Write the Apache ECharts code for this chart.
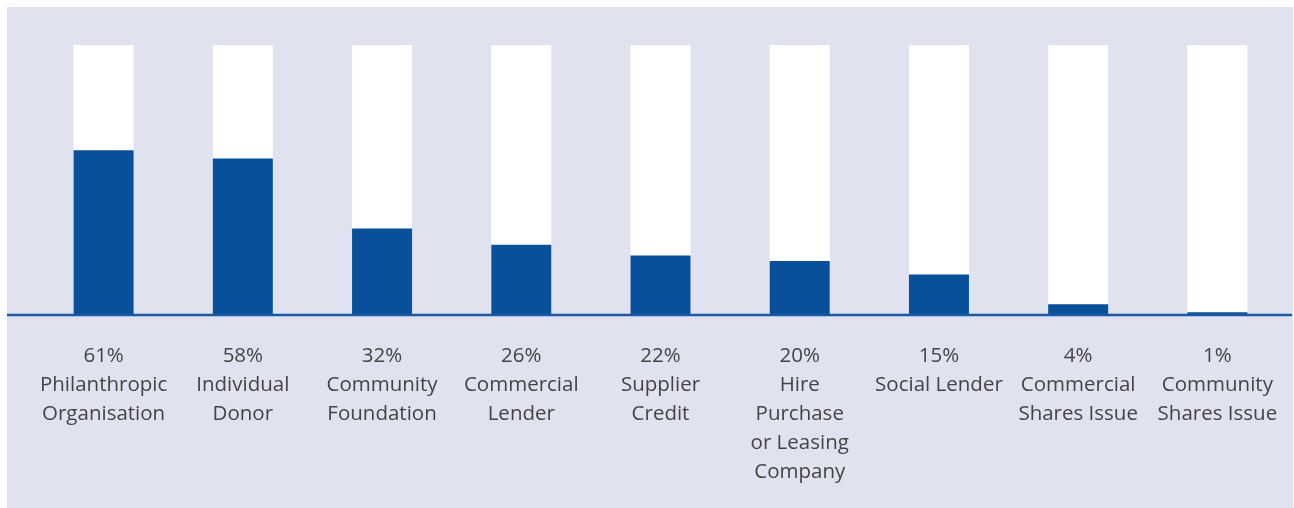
<!DOCTYPE html>
<html>
<head>
<meta charset="utf-8">
<script src="https://cdn.jsdelivr.net/npm/echarts@6/dist/echarts.min.js"></script>
<style>
  html, body { margin: 0; padding: 0; background: #ffffff; }
  #chart { width: 1294px; height: 508px; }
</style>
</head>
<body>
<div id="chart"></div>
<script>
// Sources of finance used, share of respondents (%)
const categories = [
  'Philanthropic\nOrganisation',
  'Individual\nDonor',
  'Community\nFoundation',
  'Commercial\nLender',
  'Supplier\nCredit',
  'Hire\nPurchase\nor Leasing\nCompany',
  'Social Lender',
  'Commercial\nShares Issue',
  'Community\nShares Issue'
];
const values = [61, 58, 32, 26, 22, 20, 15, 4, 1];

const panelColor = '#e0e2f0';
const barColor = '#08519a';
const axisColor = '#1b5aa2';
const textColor = '#444444';

const chart = echarts.init(document.getElementById('chart'), null, { renderer: 'canvas' });

const panel = {
  type: 'rect',
  z: -10,
  shape: { x: 7, y: 7, width: 1286, height: 501 },
  style: { fill: panelColor }
};

chart.setOption({
  backgroundColor: '#ffffff',
  animation: false,
  graphic: [panel],
  grid: { left: 34, right: 7, top: 45, bottom: 193, containLabel: false },
  xAxis: {
    type: 'category',
    data: categories,
    axisLine: { show: false },
    axisTick: { show: false },
    axisLabel: {
      interval: 0,
      hideOverlap: false,
      margin: 27,
      fontFamily: 'Open Sans',
      fontSize: 20.5,
      lineHeight: 29,
      color: textColor,
      align: 'center',
      formatter: function (name, idx) {
        return values[idx] + '%\n' + name;
      }
    }
  },
  yAxis: {
    type: 'value',
    min: 0,
    max: 100,
    show: false,
    splitLine: { show: false }
  },
  series: [{
    type: 'bar',
    data: values,
    barWidth: 60,
    showBackground: true,
    backgroundStyle: { color: '#ffffff' },
    itemStyle: { color: barColor },
    z: 2
  }]
});

// Baseline across the whole panel at the zero of the value axis
const y0 = chart.convertToPixel({ yAxisIndex: 0 }, 0);
chart.setOption({
  graphic: [panel, {
    type: 'line',
    z: 10,
    shape: { x1: 7, y1: y0, x2: 1292, y2: y0 },
    style: { stroke: axisColor, lineWidth: 2.5 }
  }]
});
</script>
</body>
</html>
